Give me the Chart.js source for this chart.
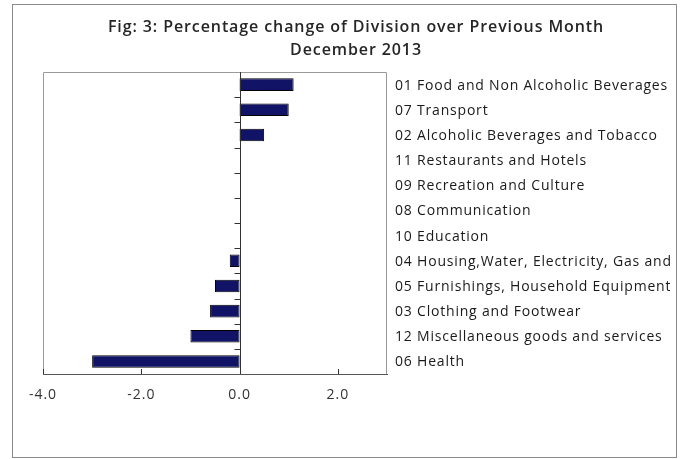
<!DOCTYPE html>
<html>
<head>
<meta charset="utf-8">
<script src="https://cdn.jsdelivr.net/npm/chart.js@4.4.1/dist/chart.umd.min.js"></script>
<style>
  html, body { margin: 0; padding: 0; background: #fff; }
</style>
</head>
<body>
<canvas id="division-chart" width="688" height="459"></canvas>
<script>
// Percentage change by COICOP division, December 2013 vs previous month
const titleLines = [
  'Fig: 3: Percentage change of Division over Previous Month',
  'December 2013'
];
const divisions = [
  '01 Food and Non Alcoholic Beverages',
  '07 Transport',
  '02 Alcoholic Beverages and Tobacco',
  '11 Restaurants and Hotels',
  '09 Recreation and Culture',
  '08 Communication',
  '10 Education',
  '04 Housing,Water, Electricity, Gas and Other Fuels',
  '05 Furnishings, Household Equipment and Maintenance',
  '03 Clothing and Footwear',
  '12 Miscellaneous goods and services',
  '06 Health'
];
const changes = [1.1, 1.0, 0.5, 0, 0, 0, 0, -0.2, -0.5, -0.6, -1.0, -3.0];
const xTicks = [-4, -2, 0, 2];
const xMin = -4;
const xMax = 3;

const FONT = '"Open Sans", Lato, sans-serif';

// Frame, title, plot border, zero axis and right-hand category labels
const decorations = {
  id: 'decorations',
  beforeDraw(chart) {
    const { ctx } = chart;
    ctx.save();
    ctx.fillStyle = '#fff';
    ctx.fillRect(0, 0, chart.width, chart.height);
    ctx.strokeStyle = '#8a8a8a';
    ctx.lineWidth = 1;
    ctx.strokeRect(12.5, 4.5, 664, 453);
    ctx.fillStyle = '#262626';
    ctx.font = `600 16px ${FONT}`;
    ctx.letterSpacing = '0.9px';
    ctx.textAlign = 'center';
    ctx.textBaseline = 'middle';
    ctx.fillText(titleLines[0], 356, 27);
    ctx.fillText(titleLines[1], 356, 50);
    ctx.restore();
    // slightly open spacing for the axis tick labels drawn next
    ctx.letterSpacing = '1px';
  },
  afterDatasetsDraw(chart) {
    const { ctx, chartArea: a, scales } = chart;
    const x0 = Math.round(scales.x.getPixelForValue(0)) + 0.5;
    ctx.save();
    ctx.lineWidth = 1;

    // plot area outline (top, left, right)
    ctx.strokeStyle = '#9a9a9a';
    ctx.beginPath();
    ctx.moveTo(a.left + 0.5, a.bottom);
    ctx.lineTo(a.left + 0.5, a.top + 0.5);
    ctx.lineTo(a.right - 0.5, a.top + 0.5);
    ctx.lineTo(a.right - 0.5, a.bottom);
    ctx.stroke();

    // vertical axis at zero with category boundary ticks
    ctx.strokeStyle = '#333';
    ctx.beginPath();
    ctx.moveTo(x0, a.top);
    ctx.lineTo(x0, a.bottom);
    const n = divisions.length;
    for (let i = 1; i < n; i++) {
      const y = Math.round((scales.y.getPixelForValue(i - 1) + scales.y.getPixelForValue(i)) / 2) + 0.5;
      ctx.moveTo(x0 - 6, y);
      ctx.lineTo(x0, y);
    }
    // horizontal axis ticks pointing into the plot
    xTicks.forEach(v => {
      const x = Math.round(scales.x.getPixelForValue(v)) + 0.5;
      ctx.moveTo(x, a.bottom);
      ctx.lineTo(x, a.bottom - 5);
    });
    ctx.stroke();

    // category labels to the right of the plot, clipped by the frame
    ctx.beginPath();
    ctx.rect(a.right, 60, 670 - a.right, 330);
    ctx.clip();
    ctx.fillStyle = '#1a1a1a';
    ctx.font = `14px ${FONT}`;
    ctx.letterSpacing = '0.8px';
    ctx.textAlign = 'left';
    ctx.textBaseline = 'middle';
    divisions.forEach((label, i) => {
      ctx.fillText(label, 395, scales.y.getPixelForValue(i) + 1);
    });
    ctx.restore();
  },
  afterDraw(chart) {
    chart.ctx.letterSpacing = '0px';
  }
};

new Chart(document.getElementById('division-chart'), {
  type: 'bar',
  data: {
    labels: divisions,
    datasets: [{
      data: changes,
      backgroundColor: '#111466',
      borderColor: '#000',
      borderWidth: 1,
      borderSkipped: false,
      categoryPercentage: 1,
      barPercentage: 0.5
    }]
  },
  options: {
    indexAxis: 'y',
    responsive: false,
    animation: false,
    devicePixelRatio: 1,
    layout: { padding: { left: 43, top: 72, right: 301, bottom: 0 } },
    plugins: {
      legend: { display: false },
      tooltip: { enabled: false }
    },
    scales: {
      x: {
        min: xMin,
        max: xMax,
        afterBuildTicks(scale) {
          scale.ticks = xTicks.map(v => ({ value: v }));
        },
        afterFit(scale) { scale.height = 85; },
        grid: { display: false, drawTicks: false },
        border: { display: true, color: '#555', width: 1 },
        ticks: {
          padding: 13,
          color: '#333',
          font: { family: FONT, size: 14 },
          maxRotation: 0,
          callback: v => Number(v).toFixed(1)
        }
      },
      y: {
        display: false,
        grid: { display: false }
      }
    }
  },
  plugins: [decorations]
});
</script>
</body>
</html>
